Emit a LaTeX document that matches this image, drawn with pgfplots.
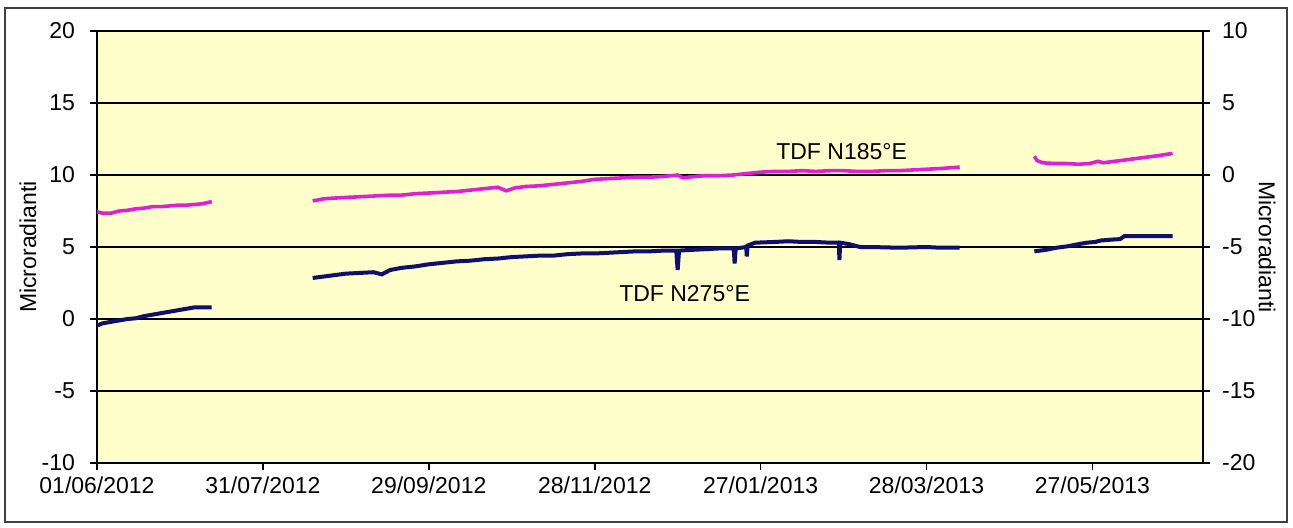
\documentclass[border=0pt]{standalone}
\usepackage{pgfplots}
\pgfplotsset{compat=1.18}
\usepackage{fontspec}
\setmainfont{Liberation Sans}
\definecolor{bg}{RGB}{255,255,204}
\definecolor{navy}{RGB}{15,15,110}
\definecolor{mag}{RGB}{225,30,215}
\newcommand\fs{\fontsize{11.5}{13.8}\selectfont}
\begin{document}
\begin{tikzpicture}
\useasboundingbox (-48.5pt,-32pt) rectangle (598pt,231.5pt);
\draw[line width=0.7pt, black!75] (-46pt,-29.5pt) rectangle (595pt,227.5pt);
\begin{axis}[
  at={(0,0)}, anchor=south west, scale only axis,
  width=553pt, height=216pt,
  xmin=0, xmax=400, ymin=-10, ymax=20,
  ytick={-10,-5,0,5,10,15,20},
  yticklabels={-10,-5,0,5,10,15,20},
  xtick={0,60,120,180,240,300,360},
  xticklabels={01/06/2012,31/07/2012,29/09/2012,28/11/2012,27/01/2013,28/03/2013,27/05/2013},
  xtick pos=bottom, ytick pos=left,
  tick align=outside, major tick length=3.5pt,
  axis background/.style={fill=bg},
  ymajorgrids, grid style={black, line width=0.7pt},
  axis line style={line width=0.8pt},
  tick style={black, line width=0.8pt},
  tick label style={font=\fs},
  yticklabel style={xshift=-4pt},
  every axis y label/.style={at={(rel axis cs:0,0.5)}, xshift=-34.5pt, rotate=90, anchor=center, font=\fs},
  ylabel={Microradianti},
  unbounded coords=jump,
  clip=false,
]
\addplot[mag, line width=1.8pt] coordinates {
(0,7.45) (2,7.35) (5,7.35) (8,7.5) (11,7.55) (14,7.65) (17,7.7) (20,7.8) (23,7.8) (26,7.85) (29,7.9) (32,7.9) (35,7.95) (38,8.0) (41.5,8.15)
(50,nan)
(78,8.2) (82,8.35) (86,8.4) (91,8.45) (96,8.5) (101,8.55) (106,8.6) (110,8.6) (115,8.7) (120,8.75) (125,8.8) (130,8.85) (135,8.95) (140,9.05) (145,9.15) (148,8.9) (151,9.1) (155,9.2) (160,9.25) (165,9.35) (170,9.45) (175,9.55) (180,9.7) (185,9.75) (190,9.8) (195,9.85) (200,9.85) (205,9.9) (210,10.0) (212,9.8) (216,9.9) (220,9.95) (225,9.95) (230,10.0) (235,10.1) (240,10.2) (245,10.25) (250,10.25) (255,10.3) (260,10.25) (265,10.3) (270,10.3) (275,10.25) (280,10.25) (285,10.3) (290,10.3) (295,10.35) (300,10.4) (305,10.45) (312,10.55)
(320,nan)
(339,11.3) (340,11.0) (342,10.85) (346,10.8) (350,10.8) (355,10.75) (359,10.8) (362,10.95) (364,10.85) (368,10.95) (372,11.05) (376,11.15) (380,11.25) (384,11.35) (389,11.5)
};
\addplot[navy, line width=2pt] coordinates {
(0,-0.45) (2,-0.3) (5,-0.2) (8,-0.1) (11,0.0) (14,0.05) (17,0.2) (20,0.3) (23,0.4) (26,0.5) (29,0.6) (32,0.7) (35,0.8) (38,0.8) (41.5,0.8)
(50,nan)
(78,2.85) (82,2.95) (86,3.05) (90,3.15) (95,3.2) (100,3.25) (103,3.1) (106,3.4) (110,3.55) (115,3.65) (120,3.8) (125,3.9) (130,4.0) (135,4.05) (140,4.15) (145,4.2) (150,4.3) (155,4.35) (160,4.4) (165,4.4) (170,4.5) (175,4.55) (180,4.55) (185,4.6) (190,4.65) (195,4.7) (200,4.7) (205,4.75) (209.5,4.75) (210,3.4) (210.5,4.75) (215,4.8) (220,4.85) (225,4.9) (230.3,4.9) (230.6,3.85) (231,4.9) (234.8,5.0) (235,4.35) (235.3,5.1) (238,5.3) (245,5.35) (250,5.4) (255,5.35) (260,5.35) (265,5.3) (268.3,5.3) (268.5,4.1) (268.8,5.3) (272,5.2) (276,5.0) (280,5.0) (290,4.95) (300,5.0) (305,4.95) (312,4.95)
(320,nan)
(339,4.7) (343,4.8) (347,4.95) (351,5.05) (355,5.2) (358,5.3) (361,5.35) (363,5.45) (366,5.5) (370,5.55) (371.5,5.75) (375,5.75) (380,5.75) (385,5.75) (389,5.75)
};
\node[font=\fs, anchor=center] at (axis cs:269.3,11.6) {TDF N185°E};
\node[font=\fs, anchor=center] at (axis cs:212.5,1.8) {TDF N275°E};
\end{axis}
\begin{axis}[
  at={(0,0)}, anchor=south west, scale only axis,
  width=553pt, height=216pt,
  xmin=0, xmax=400, ymin=-20, ymax=10,
  axis x line=none, axis y line*=right,
  ytick={-20,-15,-10,-5,0,5,10},
  yticklabels={-20,-15,-10,-5,0,5,10},
  tick align=outside, major tick length=3.5pt,
  axis line style={line width=0.8pt},
  tick style={black, line width=0.8pt},
  tick label style={font=\fs},
  yticklabel style={xshift=2.5pt},
  every axis y label/.style={at={(rel axis cs:1,0.5)}, xshift=32pt, rotate=-90, anchor=center, font=\fs},
  ylabel={Microradianti},
]
\end{axis}
\end{tikzpicture}
\end{document}
